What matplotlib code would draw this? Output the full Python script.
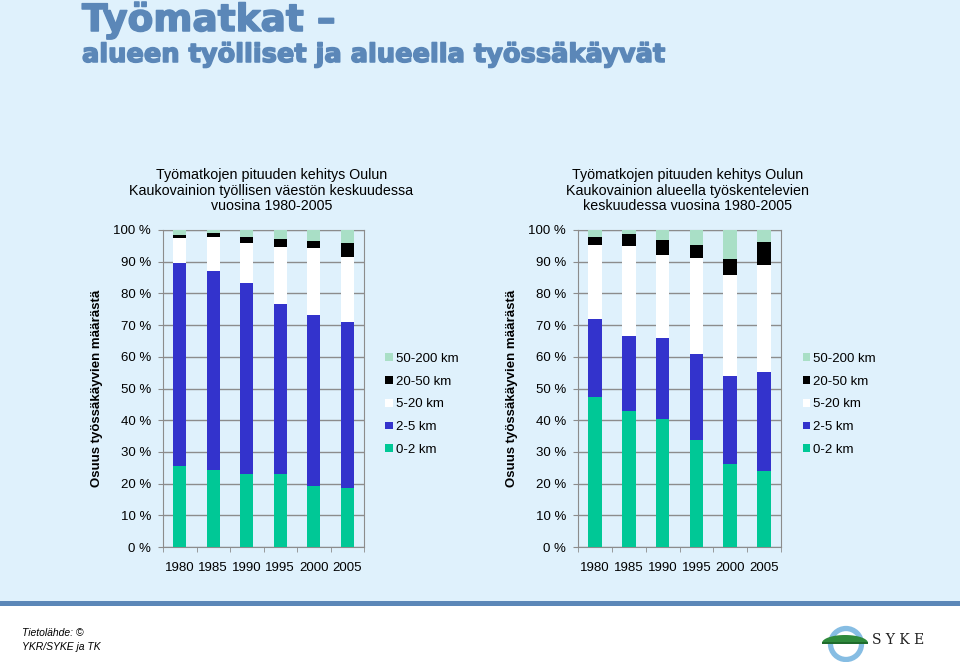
import matplotlib.pyplot as plt
import matplotlib.patches as mpatches
import matplotlib.patheffects as pe
import numpy as np

# --- data (percent shares, bottom to top) ---
years = ["1980", "1985", "1990", "1995", "2000", "2005"]
classes = ["0-2 km", "2-5 km", "5-20 km", "20-50 km", "50-200 km"]
colors = ["#00c896", "#3333cc", "#ffffff", "#000000", "#a9dfc6"]

# employed residents of the area
resid_0_2 = [25.6, 24.4, 22.9, 22.9, 19.3, 18.5]
resid_2_5 = [64.1, 62.8, 60.3, 53.6, 54.0, 52.4]
resid_5_20 = [7.7, 10.5, 12.6, 18.1, 21.0, 20.5]
resid_20_50 = [1.1, 1.2, 1.9, 2.5, 2.2, 4.6]
resid_50_200 = [1.5, 1.1, 2.3, 2.9, 3.5, 4.0]

# people working in the area
work_0_2 = [47.2, 42.8, 40.3, 33.7, 26.2, 24.0]
work_2_5 = [24.8, 23.7, 25.5, 27.1, 27.6, 31.1]
work_5_20 = [23.2, 28.6, 26.4, 30.3, 32.0, 34.0]
work_20_50 = [2.7, 3.5, 4.5, 4.3, 4.9, 7.0]
work_50_200 = [2.1, 1.4, 3.3, 4.6, 9.3, 3.9]

titles = ["Työmatkojen pituuden kehitys Oulun\nKaukovainion työllisen väestön keskuudessa\nvuosina 1980-2005",
          "Työmatkojen pituuden kehitys Oulun\nKaukovainion alueella työskentelevien\nkeskuudessa vuosina 1980-2005"]
ylabel = "Osuus työssäkäyvien määrästä"

bg = "#dff1fc"
title_col = "#5b87b8"
grid_col = "#8c8c8c"

plt.rcParams['font.family'] = ['Liberation Sans', 'DejaVu Sans']

fig = plt.figure(figsize=(9.6, 6.62), dpi=100, facecolor=bg)

# main title (slightly thickened to look like a black-weight face)
thick = [pe.Stroke(linewidth=1.1, foreground=title_col), pe.Normal()]
fig.text(82 / 960, 1 - 31 / 662, "Työmatkat –", fontsize=27, fontweight='heavy',
         color=title_col, ha='left', va='baseline', family='DejaVu Sans', path_effects=thick)
fig.text(82 / 960, 1 - 62 / 662, "alueen työlliset ja alueella työssäkäyvät", fontsize=18.5,
         fontweight='heavy', color=title_col, ha='left', va='baseline', family='DejaVu Sans',
         path_effects=thick)

# footer
fig.patches.append(mpatches.Rectangle((0, 0), 1, 1 - 606 / 662, transform=fig.transFigure,
                                      facecolor='white', edgecolor='none', zorder=0))
fig.patches.append(mpatches.Rectangle((0, 1 - 606 / 662), 1, 5 / 662, transform=fig.transFigure,
                                      facecolor=title_col, edgecolor='none', zorder=1))
fig.text(22 / 960, 1 - 640 / 662, "Tietolähde: ©\nYKR/SYKE ja TK", fontsize=7.5, style='italic',
         ha='left', va='center', linespacing=1.5)

# SYKE logo, drawn in pixel units
logo = fig.add_axes([815 / 960, 0, 60 / 960, 40 / 662], zorder=5)
logo.set_xlim(815, 875)
logo.set_ylim(662, 622)
logo.axis('off')
logo.add_patch(mpatches.Circle((846, 644), 15.5, facecolor='none', edgecolor='#86bde3', lw=3.8))
t = np.linspace(0, np.pi, 60)
hill = np.column_stack([845 + 23 * np.cos(t), 643 - 8 * np.sin(t)])
logo.add_patch(mpatches.Polygon(hill, closed=True, facecolor='#2f8a3c', edgecolor='none'))
logo.add_patch(mpatches.Rectangle((822, 642), 46, 1.8, facecolor='#1f6b2c', edgecolor='none'))
fig.text(872 / 960, 1 - 640 / 662, "S Y K E", fontsize=10, family='DejaVu Serif',
         ha='left', va='center', color='#222222')

panels = [
    ([163, 364], [resid_0_2, resid_2_5, resid_5_20, resid_20_50, resid_50_200], 97),
    ([578, 781], [work_0_2, work_2_5, work_5_20, work_20_50, work_50_200], 512),
]

x = np.arange(len(years))
for (xr, series, ylab_x), title in zip(panels, titles):
    ax = fig.add_axes([xr[0] / 960, 1 - 547 / 662, (xr[1] - xr[0]) / 960, 317 / 662])
    ax.set_facecolor('none')
    bottom = np.zeros(len(years))
    handles = []
    for vals, col, lab in zip(series, colors, classes):
        b = ax.bar(x, vals, 0.4, bottom=bottom, color=col, label=lab, zorder=3)
        handles.append(b)
        bottom += np.array(vals)
    ax.set_xlim(-0.5, len(years) - 0.5)
    ax.set_ylim(0, 100)
    ax.set_yticks(np.arange(0, 101, 10))
    ax.set_yticklabels([f"{v} %" for v in range(0, 101, 10)])
    ax.yaxis.grid(True, color=grid_col, lw=1, zorder=0)
    for s in ax.spines.values():
        s.set_color(grid_col)
    ax.set_xticks(x)
    ax.set_xticklabels(years)
    ax.set_xticks(np.arange(-0.5, len(years), 1), minor=True)
    ax.tick_params(axis='x', which='major', length=0, pad=11, labelsize=9.5)
    ax.tick_params(axis='x', which='minor', length=3.6, color=grid_col, direction='out')
    ax.tick_params(axis='y', length=3.6, color=grid_col, pad=5, labelsize=9.5)
    ax.set_title(title, fontsize=10.3, pad=14.4, linespacing=1.12, x=0.5 + 8 / 201)
    fig.text(ylab_x / 960, 1 - 388 / 662, ylabel, rotation=90, fontsize=9.5,
             fontweight='bold', ha='center', va='center')
    ax.legend(handles[::-1], classes[::-1], loc='center left', bbox_to_anchor=(1.08, 0.45),
              frameon=False, fontsize=9.5, handlelength=0.55, handleheight=0.55,
              handletextpad=0.25, labelspacing=0.82, borderaxespad=0)

fig.savefig("out.png", dpi=100, facecolor=bg)
